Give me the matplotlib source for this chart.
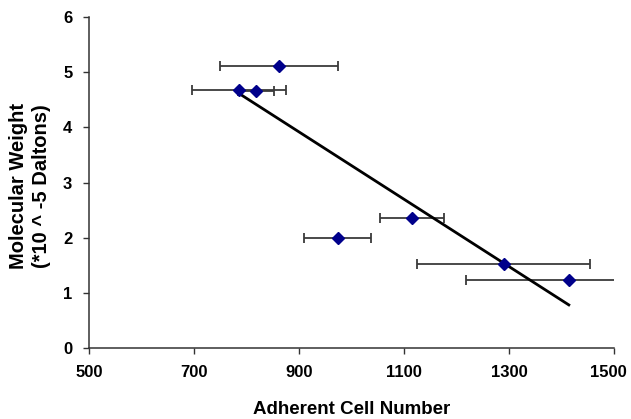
import numpy as np
import matplotlib
matplotlib.use("Agg")
import matplotlib.pyplot as plt
from matplotlib import font_manager
from matplotlib.transforms import ScaledTranslation

cell_number = [862, 786, 818, 974, 1115, 1290, 1414]
mol_weight = [5.12, 4.68, 4.67, 2.00, 2.35, 1.52, 1.24]
cell_err = [113, 90, 34, 64, 61, 165, 195]

xticks = [500, 700, 900, 1100, 1300, 1500]
yticks = [0, 1, 2, 3, 4, 5, 6]

names = {f.name for f in font_manager.fontManager.ttflist}
if 'Liberation Sans Narrow' in names:
    label_fam = ['Liberation Sans Narrow', 'DejaVu Sans']
    xl_size, yl_size = 16.5, 18
else:
    label_fam = ['Liberation Sans', 'DejaVu Sans']
    xl_size, yl_size = 13.5, 14.5

plt.rcParams['font.family'] = ['Liberation Sans', 'DejaVu Sans']

fig = plt.figure(figsize=(6.31, 4.19), dpi=100)
ax = fig.add_axes([0.141, 0.1695, 0.832, 0.7895])

ax.errorbar(cell_number, mol_weight, xerr=cell_err, fmt='none',
            ecolor='#3a3a3a', elinewidth=1.3, capsize=3.6, capthick=1.3, zorder=2)

coef = np.polyfit(cell_number, mol_weight, 1)
xs = np.array([min(cell_number), max(cell_number)])
ax.plot(xs, np.polyval(coef, xs), color='black', lw=2.0, zorder=3)

ax.plot(cell_number, mol_weight, linestyle='none', marker='D', ms=6,
        color='#00008B', zorder=4)

ax.set_xlim(500, 1500)
ax.set_ylim(0, 6)
ax.set_xticks(xticks)
ax.set_yticks(yticks)
ax.tick_params(direction='out', length=4, width=1, labelsize=12, pad=8,
               color='#333333')
for lab in ax.get_xticklabels() + ax.get_yticklabels():
    lab.set_fontweight('bold')
last = ax.get_xticklabels()[-1]
last.set_transform(last.get_transform() + ScaledTranslation(-4 / 72, 0, fig.dpi_scale_trans))
for s in ['top', 'right']:
    ax.spines[s].set_visible(False)
for s in ['left', 'bottom']:
    ax.spines[s].set_linewidth(1.1)
    ax.spines[s].set_color('#333333')

ax.set_xlabel('Adherent Cell Number', fontsize=xl_size, fontweight='bold',
              family=label_fam)
ax.xaxis.set_label_coords(0.5, -0.16)
ax.set_ylabel('Molecular Weight\n(*10 ^ -5 Daltons)', fontsize=yl_size,
              fontweight='bold', family=label_fam, linespacing=1.3)
ax.yaxis.set_label_coords(-0.072, 0.49)

fig.savefig('out.png', dpi=100)
